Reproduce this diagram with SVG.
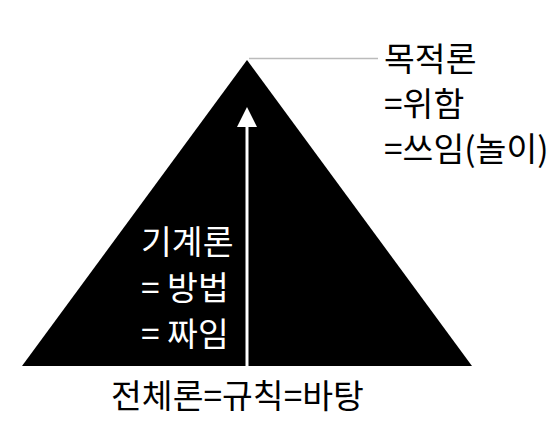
<svg xmlns="http://www.w3.org/2000/svg" width="560" height="441" viewBox="0 0 560 441">
<style>
.t{font-family:"Noto Sans CJK KR","Noto Sans",sans-serif;font-size:33.5px;}
.w{fill:#fff;}
.k{fill:#000;}
</style>
<rect width="560" height="441" fill="#fff"/>
<g id="pyramid">
<polygon points="247,60 22,366 472,366" fill="#000"/>
</g>
<g id="connectors">
<line x1="249" y1="58.5" x2="378" y2="58.5" stroke="#bbb" stroke-width="1.5"/>
<line x1="247" y1="366" x2="247" y2="124" stroke="#fff" stroke-width="3"/>
<polygon points="247,107 237,127 257,127" fill="#fff"/>
</g>
<g id="top-label">
<text class="t k" x="384" y="71">목적론</text>
<text class="t k" x="384" y="116">=위함</text>
<text class="t k" x="384" y="161">=쓰임(놀이)</text>
</g>
<g id="mid-label">
<text class="t w" x="141" y="254">기계론</text>
<text class="t w" x="141" y="300">= 방법</text>
<text class="t w" x="141" y="346">= 짜임</text>
</g>
<g id="bottom-label">
<text class="t k" x="111" y="408">전체론=규칙=바탕</text>
</g>
</svg>
